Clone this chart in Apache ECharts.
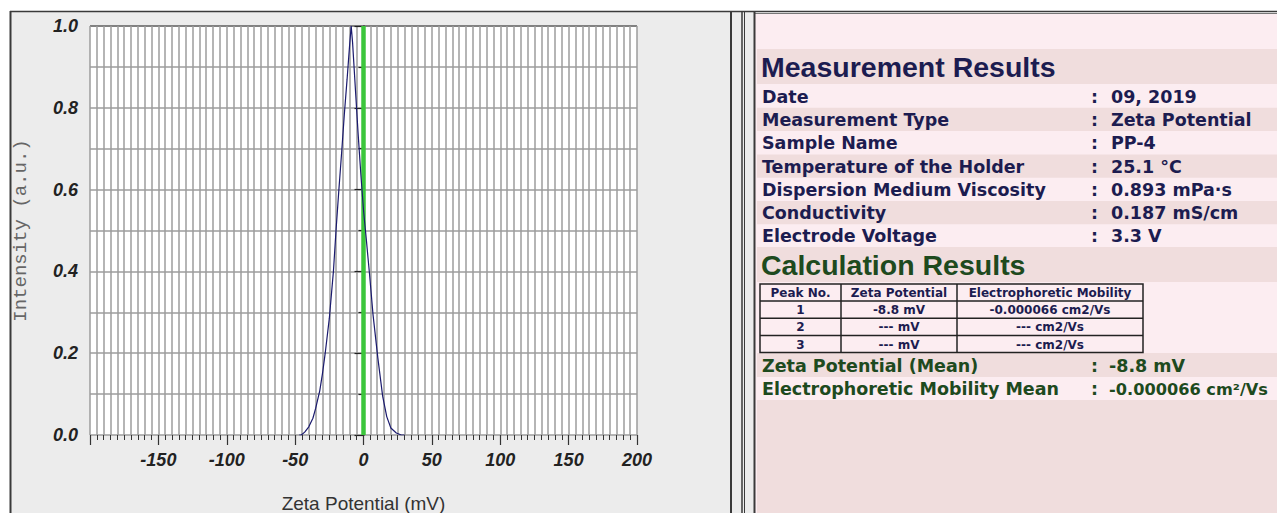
<!DOCTYPE html>
<html>
<head>
<meta charset="utf-8">
<script src="https://cdn.jsdelivr.net/npm/echarts@6/dist/echarts.min.js"></script>
<style>
html,body{margin:0;padding:0;background:#fff;}
#c{width:1277px;height:513px;}
</style>
</head>
<body>
<div id="c"></div>
<script>
// ---- data ----
const zetaMv = [-47, -45.5, -43, -40, -37, -35, -32, -30, -28, -25, -22, -20, -18, -16, -14, -12, -10, -9, -8, -6, -4, -2, 0, 2, 4.5, 7, 10.5, 14, 17, 20, 24, 27.6, 30];
const intensity = [0, 0, 0.007, 0.02, 0.041, 0.065, 0.108, 0.15, 0.2, 0.285, 0.4, 0.505, 0.6, 0.69, 0.785, 0.87, 0.96, 1.0, 0.96, 0.85, 0.74, 0.64, 0.55, 0.48, 0.39, 0.293, 0.188, 0.095, 0.045, 0.017, 0.005, 0, 0];
const markerZeta = 0;
const xTicks = [-200, -150, -100, -50, 0, 50, 100, 150, 200];
const yTicks = [0, 0.2, 0.4, 0.6, 0.8, 1.0];

const measLabels = ['Date', 'Measurement Type', 'Sample Name', 'Temperature of the Holder', 'Dispersion Medium Viscosity', 'Conductivity', 'Electrode Voltage'];
const measValues = ['09, 2019', 'Zeta Potential', 'PP-4', '25.1 °C', '0.893 mPa·s', '0.187 mS/cm', '3.3 V'];
const tableHeader = ['Peak No.', 'Zeta Potential', 'Electrophoretic Mobility'];
const tableRows = [['1', '-8.8 mV', '-0.000066 cm2/Vs'], ['2', '--- mV', '--- cm2/Vs'], ['3', '--- mV', '--- cm2/Vs']];
const meanLabels = ['Zeta Potential (Mean)', 'Electrophoretic Mobility Mean'];
const meanValues = ['-8.8 mV', '-0.000066 cm²/Vs'];

// ---- styling / layout ----
const NAVY = '#1c1c50';
const GREEN = '#1e4a1e';
const PINK_L = '#fcedf1';
const PINK_D = '#f0dddd';
const PANEL = '#ececec';
const LINE = '#3a3a3a';
const FONT = 'Liberation Sans, Arial, sans-serif';
const WIDE = 'DejaVu Sans, Verdana, sans-serif';

const g = [];
// panels
g.push({type:'rect', shape:{x:10,y:12,width:721,height:501}, style:{fill:PANEL}, silent:true, z:-10});
g.push({type:'rect', shape:{x:731,y:12,width:24,height:501}, style:{fill:PANEL}, silent:true, z:-10});
g.push({type:'rect', shape:{x:755,y:13,width:522,height:500}, style:{fill:PINK_L}, silent:true, z:-10});
// border lines
function vline(x, y1, y2, w){ g.push({type:'line', shape:{x1:x,y1:y1,x2:x,y2:y2}, style:{stroke:LINE,lineWidth:w||1.5}, silent:true}); }
function hline(y, x1, x2, w, c){ g.push({type:'line', shape:{x1:x1,y1:y,x2:x2,y2:y}, style:{stroke:c||LINE,lineWidth:w||1.5}, silent:true}); }
hline(11.5, 10, 1277, 1.5);
hline(13.5, 755, 1277, 1, '#777');
vline(10.5, 11, 513, 2);
vline(731, 11, 513, 2);
vline(742, 11, 513, 1.5);
vline(744.5, 11, 513, 1);
vline(754.5, 11, 513, 2);
// plot top border
hline(26, 90, 637, 2, '#333');

// right panel bands
function band(y, h, fill){ g.push({type:'rect', shape:{x:757,y:y,width:520,height:h}, style:{fill:fill}, silent:true, z:-5}); }
band(49, 35, PINK_D);
const rowTop = 84.5, rowH = 23.3;
for (let i = 0; i < measLabels.length; i++) {
  if (i % 2 === 1) band(rowTop + i*rowH, rowH, PINK_D);
}
band(247, 35, PINK_D);
band(353, 24, PINK_D);
band(400, 113, PINK_D);

function txt(x, y, s, size, color, weight, align, family) {
  g.push({type:'text', x:x, y:y, style:{text:s, fontSize:size, fontWeight:weight||'bold', fill:color, fontFamily:family||FONT, textAlign:align||'left', textVerticalAlign:'middle'}, silent:true});
}
txt(761, 67, 'Measurement Results', 28.5, NAVY);
for (let i = 0; i < measLabels.length; i++) {
  const cy = rowTop + i*rowH + rowH/2 + 0.5;
  txt(762, cy, measLabels[i], 17.5, NAVY, 'bold', 'left', WIDE);
  txt(1091, cy, ':', 17.5, NAVY, 'bold', 'left', WIDE);
  txt(1111, cy, measValues[i], 17.5, NAVY, 'bold', 'left', WIDE);
}
txt(761, 265, 'Calculation Results', 28.5, GREEN);

// small table
const colX = [760, 841, 957, 1143];
const rowY = [284, 301, 318.3, 335.6, 352.5];
g.push({type:'rect', shape:{x:colX[0],y:rowY[0],width:colX[3]-colX[0],height:rowY[4]-rowY[0]}, style:{fill:PINK_L, stroke:'#222', lineWidth:1.5}, silent:true});
for (let i = 1; i < 3; i++) g.push({type:'line', shape:{x1:colX[i],y1:rowY[0],x2:colX[i],y2:rowY[4]}, style:{stroke:'#222',lineWidth:1.5}, silent:true});
for (let j = 1; j < 4; j++) g.push({type:'line', shape:{x1:colX[0],y1:rowY[j],x2:colX[3],y2:rowY[j]}, style:{stroke:'#222',lineWidth:1.5}, silent:true});
const allRows = [tableHeader].concat(tableRows);
for (let j = 0; j < allRows.length; j++) {
  for (let i = 0; i < 3; i++) {
    txt((colX[i]+colX[i+1])/2, (rowY[j]+rowY[j+1])/2 + 0.5, allRows[j][i], 12, NAVY, 'bold', 'center', WIDE);
  }
}
for (let i = 0; i < meanLabels.length; i++) {
  const cy = 365.5 + i*23.5;
  txt(762, cy, meanLabels[i], 17.5, GREEN, 'bold', 'left', WIDE);
  txt(1091, cy, ':', 17.5, GREEN, 'bold', 'left', WIDE);
  txt(1109, cy, meanValues[i], i === 1 ? 16.2 : 17.5, GREEN, 'bold', 'left', WIDE);
}

const curve = zetaMv.map((v, i) => [v, intensity[i]]);

const chart = echarts.init(document.getElementById('c'), null, {renderer:'svg'});
chart.setOption({
  animation: false,
  backgroundColor: '#ffffff',
  grid: {left:90, top:26, width:547, height:409, show:true, backgroundColor:'#ffffff', borderWidth:0,
         containLabel:false, outerBoundsMode:'none'},
  xAxis: {
    type:'value', min:xTicks[0], max:xTicks[xTicks.length-1], interval:50,
    name:'Zeta Potential (mV)', nameLocation:'middle', nameGap:59,
    nameTextStyle:{fontFamily:FONT, fontSize:19, color:'#333'},
    axisLine:{show:false},
    axisTick:{show:true, length:10, lineStyle:{color:'#333', width:1.2}},
    minorTick:{show:true, splitNumber:10, length:5, lineStyle:{color:'#333', width:1}},
    splitLine:{show:true, lineStyle:{color:'#9c9c9c', width:1.5}},
    minorSplitLine:{show:true, lineStyle:{color:'#9c9c9c', width:1.5}},
    axisLabel:{margin:16, fontSize:18, fontWeight:'bold', fontStyle:'italic', color:'#222', fontFamily:FONT,
      formatter: v => (v === xTicks[0] ? '' : String(v))}
  },
  yAxis: {
    type:'value', min:yTicks[0], max:yTicks[yTicks.length-1], interval:0.2,
    name:'Intensity (a.u.)', nameLocation:'middle', nameGap:60, nameRotate:90,
    nameTextStyle:{fontFamily:'Liberation Mono, DejaVu Sans Mono, monospace', fontSize:19, color:'#666'},
    axisLine:{show:true, lineStyle:{color:'#222', width:1.5}},
    axisTick:{show:true, length:9, lineStyle:{color:'#222', width:1.2}},
    minorTick:{show:true, splitNumber:2, length:5, lineStyle:{color:'#222', width:1.2}},
    splitLine:{show:true, lineStyle:{color:'#9c9c9c', width:1.5}},
    minorSplitLine:{show:true, lineStyle:{color:'#9c9c9c', width:1.5}},
    axisLabel:{margin:12, fontSize:18, fontWeight:'bold', fontStyle:'italic', color:'#222', fontFamily:FONT,
      formatter: v => v.toFixed(1)}
  },
  graphic: g,
  series: [
    {type:'line', data:[[markerZeta, yTicks[0]], [markerZeta, yTicks[yTicks.length-1]]], symbol:'none',
     lineStyle:{color:'#3cc63c', width:4.5}, silent:true, z:2},
    {type:'line', data:curve, symbol:'none', smooth:false,
     lineStyle:{color:'#1a1a6e', width:1.2}, silent:true, z:3}
  ]
});
</script>
</body>
</html>
